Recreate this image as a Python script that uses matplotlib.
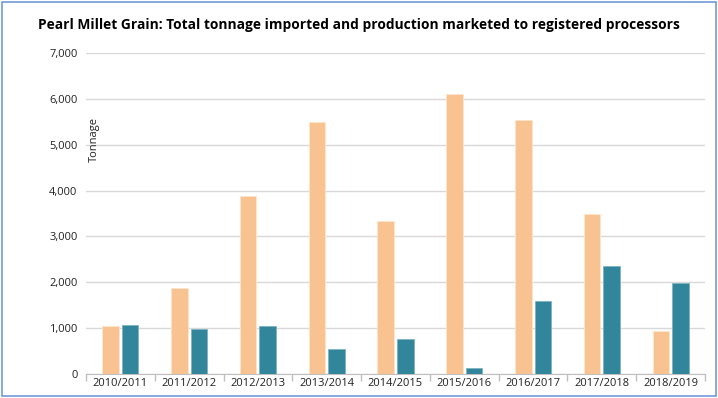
import matplotlib
matplotlib.use("Agg")
import matplotlib.pyplot as plt
import numpy as np
from matplotlib.patches import Rectangle

categories = ["2010/2011", "2011/2012", "2012/2013", "2013/2014", "2014/2015",
              "2015/2016", "2016/2017", "2017/2018", "2018/2019"]
imported = [1050, 1875, 3875, 5495, 3345, 6105, 5545, 3480, 945]
marketed = [1075, 980, 1055, 545, 765, 125, 1590, 2355, 1990]
yticks = [0, 1000, 2000, 3000, 4000, 5000, 6000, 7000]

orange = "#F9C291"
teal = "#31869B"

plt.rcParams['font.family'] = ['Open Sans', 'DejaVu Sans']

fig = plt.figure(figsize=(7.18, 3.98), dpi=100)
ax = fig.add_axes([86/718, 1-374/398, (705-86)/718, (374-53)/398])

x = np.arange(len(categories))
w = 0.24
gap = 0.045
ax.bar(x - w/2 - gap/2, imported, w, color=orange, edgecolor="#FFE4CC", linewidth=0.6, zorder=3)
ax.bar(x + w/2 + gap/2, marketed, w, color=teal, edgecolor="#7FB3C2", linewidth=0.6, zorder=3)

ax.set_xlim(-0.5, len(categories) - 0.5)
ax.set_ylim(0, 7000)
ax.set_yticks(yticks)
ax.set_yticklabels([f"{v:,}" for v in yticks], fontsize=8, color="#222222")
ax.yaxis.grid(True, color="#D9D9D9", linewidth=1, zorder=0)
ax.tick_params(axis='y', length=0, pad=6)

ax.set_xticks(x)
ax.set_xticklabels(categories, fontsize=8, color="#222222")
ax.tick_params(axis='x', length=0, pad=3)
ax.set_xticks(np.arange(-0.5, len(categories)), minor=True)
ax.tick_params(axis='x', which='minor', length=5, color="#BFBFBF", width=1)

for s in ["top", "right", "left"]:
    ax.spines[s].set_visible(False)
ax.spines["bottom"].set_color("#BFBFBF")

ax.text(0.005, 0.73, "Tonnage", transform=ax.transAxes, rotation=90,
        fontsize=8, va="center", ha="left", color="#222222")

fig.text(0.5, 1 - 25.5/398, "Pearl Millet Grain: Total tonnage imported and production marketed to registered processors",
         ha="center", va="center", fontsize=9.9, fontweight="bold", color="#000000")

fig.patches.append(Rectangle((2/718, 2/398), 1 - 4/718, 1 - 4/398, transform=fig.transFigure,
                             fill=False, edgecolor="#6F9BD6", linewidth=1.2))

fig.savefig("out.png", dpi=100)
